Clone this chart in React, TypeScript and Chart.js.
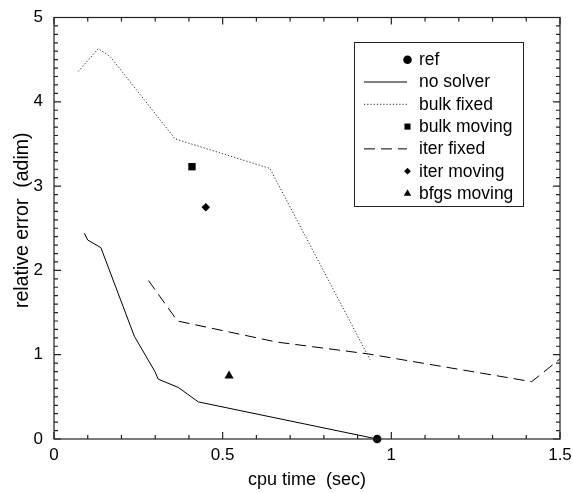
import React, { useEffect, useRef } from 'react';
import { Chart, registerables } from 'chart.js';

Chart.register(...registerables);

// ---- data ----
const refX = [0.958];
const refY = [0.0];

const noSolverX = [0.09, 0.1, 0.139, 0.238, 0.299, 0.309, 0.369, 0.428, 0.958];
const noSolverY = [2.44, 2.36, 2.27, 1.22, 0.8, 0.71, 0.61, 0.44, 0.0];

const bulkFixedX = [0.072, 0.131, 0.166, 0.359, 0.64, 0.937];
const bulkFixedY = [4.36, 4.63, 4.54, 3.56, 3.21, 0.94];

const bulkMovingX = [0.409];
const bulkMovingY = [3.23];

const iterFixedX = [0.28, 0.366, 0.66, 0.93, 1.416, 1.5];
const iterFixedY = [1.88, 1.4, 1.15, 1.01, 0.68, 0.95];

const iterMovingX = [0.45];
const iterMovingY = [2.75];

const bfgsMovingX = [0.519];
const bfgsMovingY = [0.75];

const seriesNames = ['ref', 'no solver', 'bulk fixed', 'bulk moving', 'iter fixed', 'iter moving', 'bfgs moving'];

const xTickValues = [0, 0.5, 1, 1.5];
const yTickValues = [0, 1, 2, 3, 4, 5];

const xTitle = 'cpu time  (sec)';
const yTitle = 'relative error  (adim)';

const FONT = '"Liberation Sans", Arial, Helvetica, sans-serif';

const toPts = (xs: number[], ys: number[]) => xs.map((x, i) => ({ x, y: ys[i] }));

function drawMarker(ctx: CanvasRenderingContext2D, style: string, x: number, y: number, r: number) {
  ctx.beginPath();
  if (style === 'circle') {
    ctx.arc(x, y, r, 0, Math.PI * 2);
  } else if (style === 'rect') {
    const s = r * Math.SQRT1_2;
    ctx.rect(x - s, y - s, 2 * s, 2 * s);
  } else if (style === 'rectRot') {
    ctx.moveTo(x, y - r);
    ctx.lineTo(x + r, y);
    ctx.lineTo(x, y + r);
    ctx.lineTo(x - r, y);
    ctx.closePath();
  } else if (style === 'triangle') {
    for (let k = 0; k < 3; k++) {
      const a = (k * 2 * Math.PI) / 3;
      const px = x + Math.sin(a) * r;
      const py = y - Math.cos(a) * r;
      if (k === 0) ctx.moveTo(px, py);
      else ctx.lineTo(px, py);
    }
    ctx.closePath();
  }
  ctx.fill();
}

const framePlugin = {
  id: 'frameTicks',
  afterDraw(chart: any) {
    const { ctx, chartArea, scales } = chart;
    const { left, right, top, bottom } = chartArea;
    const x = scales.x;
    const y = scales.y;
    ctx.save();
    ctx.strokeStyle = '#222';
    ctx.lineWidth = 1.2;
    ctx.strokeRect(left, top, right - left, bottom - top);
    ctx.beginPath();
    for (let i = 0; i <= 15; i++) {
      const px = x.getPixelForValue(i / 10);
      const len = i % 5 === 0 ? 7 : 4;
      ctx.moveTo(px, bottom);
      ctx.lineTo(px, bottom - len);
      ctx.moveTo(px, top);
      ctx.lineTo(px, top + len);
    }
    for (let i = 0; i <= 50; i++) {
      const py = y.getPixelForValue(i / 10);
      const len = i % 10 === 0 ? 7 : 4;
      ctx.moveTo(left, py);
      ctx.lineTo(left + len, py);
      ctx.moveTo(right, py);
      ctx.lineTo(right - len, py);
    }
    ctx.stroke();

    // y axis title (drawn here to place it like the reference)
    ctx.fillStyle = '#000';
    ctx.font = `19.5px ${FONT}`;
    ctx.textAlign = 'center';
    ctx.textBaseline = 'middle';
    ctx.translate(23, (top + bottom) / 2 - 8);
    ctx.rotate(-Math.PI / 2);
    ctx.fillText(yTitle, 0, 0);
    ctx.restore();
  },
};

const legendPlugin = {
  id: 'boxLegend',
  afterDraw(chart: any) {
    const { ctx } = chart;
    const boxL = 354.5, boxT = 42.5, boxW = 169, boxH = 164;
    const row0 = 59.7, rowH = 22.3;
    const lineX0 = 364, lineX1 = 407, markX = 407.5, textX = 419;
    ctx.save();
    ctx.fillStyle = '#fff';
    ctx.fillRect(boxL, boxT, boxW, boxH);
    ctx.strokeStyle = '#222';
    ctx.lineWidth = 1;
    ctx.strokeRect(boxL, boxT, boxW, boxH);
    ctx.font = `17.5px ${FONT}`;
    ctx.textBaseline = 'middle';
    ctx.textAlign = 'left';
    chart.data.datasets.forEach((ds: any, i: number) => {
      const yy = row0 + i * rowH;
      if (ds.showLine) {
        ctx.save();
        ctx.strokeStyle = ds.borderColor;
        ctx.lineWidth = ds.borderWidth;
        ctx.setLineDash(ds.borderDash || []);
        ctx.beginPath();
        ctx.moveTo(lineX0, yy);
        ctx.lineTo(lineX1, yy);
        ctx.stroke();
        ctx.restore();
      } else {
        ctx.fillStyle = '#000';
        drawMarker(ctx, ds.pointStyle, markX, yy, ds.legendRadius);
      }
      ctx.fillStyle = '#000';
      ctx.fillText(ds.label, textX, yy + 0.5);
    });
    ctx.restore();
  },
};

function markerSet(label: string, xs: number[], ys: number[], style: string, r: number, lr: number) {
  return {
    label,
    data: toPts(xs, ys),
    showLine: false,
    pointStyle: style,
    pointRadius: r,
    pointHoverRadius: r,
    pointBackgroundColor: '#000',
    pointBorderColor: '#000',
    pointBorderWidth: 0,
    borderColor: '#000',
    backgroundColor: '#000',
    clip: false,
    legendRadius: lr,
  };
}

function lineSet(label: string, xs: number[], ys: number[], color: string, dash: number[], width: number) {
  return {
    label,
    data: toPts(xs, ys),
    showLine: true,
    borderColor: color,
    borderWidth: width,
    borderDash: dash,
    pointRadius: 0,
    pointHoverRadius: 0,
    tension: 0,
    fill: false,
    clip: 2,
  };
}

export default function App() {
  const ref = useRef<HTMLCanvasElement | null>(null);
  useEffect(() => {
    if (!ref.current) return;
    const titleFont = { family: FONT, size: 18 };
    const tickFont = { family: FONT, size: 17 };
    const chart = new Chart(ref.current, {
      type: 'scatter',
      data: {
        datasets: [
          markerSet(seriesNames[0], refX, refY, 'circle', 4.3, 4.3),
          lineSet(seriesNames[1], noSolverX, noSolverY, '#000', [], 1),
          lineSet(seriesNames[2], bulkFixedX, bulkFixedY, '#333', [1.3, 1.9], 1),
          markerSet(seriesNames[3], bulkMovingX, bulkMovingY, 'rect', 5.2, 4.3),
          lineSet(seriesNames[4], iterFixedX, iterFixedY, '#000', [11, 6], 1),
          markerSet(seriesNames[5], iterMovingX, iterMovingY, 'rectRot', 4.3, 3.4),
          markerSet(seriesNames[6], bfgsMovingX, bfgsMovingY, 'triangle', 5.3, 4.3),
        ] as any,
      },
      options: {
        responsive: false,
        animation: false,
        events: [],
        layout: { padding: { left: 0, right: 13, top: 17.5, bottom: 0 } },
        plugins: { legend: { display: false }, tooltip: { enabled: false } },
        scales: {
          x: {
            type: 'linear',
            min: 0,
            max: 1.5,
            afterBuildTicks(scale: any) {
              scale.ticks = xTickValues.map((v) => ({ value: v }));
            },
            ticks: {
              font: tickFont,
              color: '#000',
              padding: 6,
              maxRotation: 0,
              callback: (v: any) => String(v),
            },
            grid: { display: false, drawTicks: false },
            border: { display: false },
            title: { display: true, text: xTitle, font: titleFont, color: '#000', padding: { top: 0, bottom: 2 } },
            afterFit(scale: any) {
              scale.height = 54;
              scale.paddingLeft = 0;
              scale.paddingRight = 0;
            },
          },
          y: {
            type: 'linear',
            min: 0,
            max: 5,
            afterBuildTicks(scale: any) {
              scale.ticks = yTickValues.map((v) => ({ value: v }));
            },
            ticks: {
              font: tickFont,
              color: '#000',
              padding: 11,
              callback: (v: any) => String(v),
            },
            grid: { display: false, drawTicks: false },
            border: { display: false },
            title: { display: false },
            afterFit(scale: any) {
              scale.width = 54;
              scale.paddingTop = 0;
              scale.paddingBottom = 0;
            },
          },
        },
      } as any,
      plugins: [framePlugin, legendPlugin],
    });
    return () => chart.destroy();
  }, []);
  return (
    <div style={{ position: 'fixed', left: 0, top: 0, width: 573, height: 493, background: '#fff' }}>
      <canvas ref={ref} width={573} height={493} style={{ display: 'block' }} />
    </div>
  );
}
